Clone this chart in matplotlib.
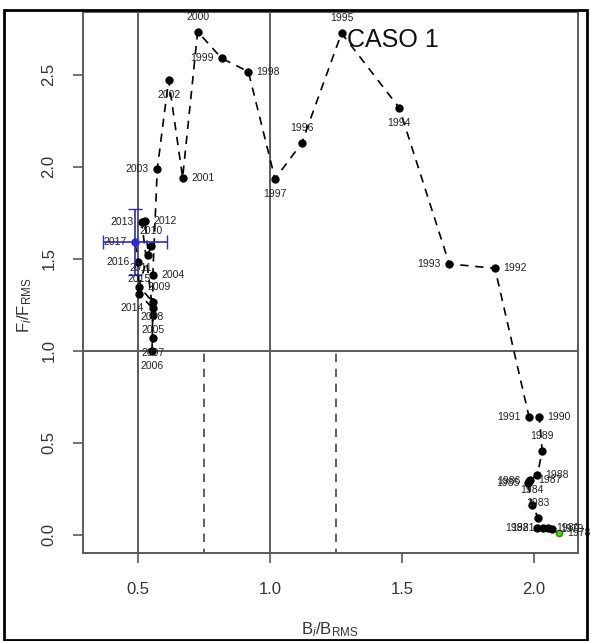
import matplotlib
matplotlib.use("Agg")
import matplotlib.pyplot as plt
from matplotlib.patches import Rectangle
import numpy as np

plt.rcParams['font.family'] = ['Liberation Sans', 'DejaVu Sans']
plt.rcParams['mathtext.fontset'] = 'custom'
plt.rcParams['mathtext.rm'] = 'Liberation Sans'
plt.rcParams['mathtext.it'] = 'Liberation Sans:italic'

# yearly values, B_i/B_RMS and F_i/F_RMS
years = list(range(1978, 2018))
b_ratio = [2.093, 2.067, 2.054, 2.035, 2.012, 2.016, 1.992, 1.977, 1.980, 1.985,
           2.013, 2.031, 2.020, 1.981, 1.852, 1.679, 1.489, 1.271, 1.120, 1.019,
           0.918, 0.817, 0.726, 0.669, 0.616, 0.573, 0.556, 0.556, 0.553, 0.555,
           0.555, 0.504, 0.548, 0.539, 0.527, 0.514, 0.555, 0.505, 0.500, 0.489]
f_ratio = [0.010, 0.031, 0.036, 0.036, 0.038, 0.093, 0.163, 0.283, 0.293, 0.299,
           0.326, 0.458, 0.643, 0.643, 1.449, 1.473, 2.322, 2.727, 2.129, 1.935,
           2.518, 2.590, 2.735, 1.942, 2.473, 1.989, 1.413, 1.196, 1.002, 1.069,
           1.268, 1.350, 1.571, 1.520, 1.708, 1.699, 1.232, 1.310, 1.486, 1.591]
# where each year label sits: r = right, l = left, a = above, b = below
label_side = ['r', 'r', 'r', 'l', 'l', 'a', 'a', 'l', 'l', 'r',
              'r', 'a', 'r', 'l', 'r', 'l', 'b', 'a', 'a', 'b',
              'r', 'l', 'a', 'r', 'b', 'l', 'r', 'b', 'b', 'b',
              'b', 'r', 'a', 'bl', 'r', 'l', 'l', 'a', 'l', 'l']

# uncertainty of the last year
b_err_last = 0.122
f_err_last = 0.18

fig = plt.figure(figsize=(5.9, 6.41), dpi=100)
ax = fig.add_axes([0.1407, 0.1373, 0.839, 0.844])

box_col = '#5a5a5a'
ax.axvline(0.5, color=box_col, lw=1.4, zorder=1)
ax.axvline(1.0, color=box_col, lw=1.4, zorder=1)
ax.axhline(1.0, color=box_col, lw=1.4, zorder=1)
ax.plot([0.75, 0.75], [-0.2, 1.0], color='#444444', lw=1.2, ls=(0, (5, 4)), zorder=1)
ax.plot([1.25, 1.25], [-0.2, 1.0], color='#444444', lw=1.2, ls=(0, (5, 4)), zorder=1)

ax.plot(b_ratio, f_ratio, color='black', lw=1.2, ls=(0, (5, 4)), zorder=2)
ax.plot(b_ratio[1:-1], f_ratio[1:-1], 'o', color='black', ms=5, zorder=3)
ax.plot(b_ratio[0], f_ratio[0], 'o', color='#55cc22', mec='#228800', ms=4.5, zorder=4)
ax.errorbar(b_ratio[-1], f_ratio[-1], xerr=b_err_last, yerr=f_err_last,
            fmt='o', color='#2a2ad6', ms=5, lw=1.2, capsize=5, zorder=4)

offsets = {'r': (20, 0), 'l': (-20, 0), 'a': (0, 15), 'b': (0, -15), 'bl': (-8, -13)}
for yr, bx, fy, side in zip(years, b_ratio, f_ratio, label_side):
    ax.annotate(str(yr), (bx, fy), xytext=offsets[side], textcoords='offset pixels',
                ha='center', va='center', fontsize=7.5, color='#222222', zorder=5)

ax.text(1.29, 2.69, 'CASO 1', fontsize=18, color='#111111', ha='left', va='center')

ax.set_xlim(0.2917, 2.1667)
ax.set_ylim(-0.098, 2.842)
ax.set_xticks([0.5, 1.0, 1.5, 2.0])
ax.set_yticks([0.0, 0.5, 1.0, 1.5, 2.0, 2.5])
ax.set_xticklabels(['0.5', '1.0', '1.5', '2.0'])
ax.set_yticklabels(['0.0', '0.5', '1.0', '1.5', '2.0', '2.5'], rotation=90, va='center')
ax.tick_params(direction='out', length=7, width=1.2, color=box_col,
               labelsize=12, labelcolor='#333333', pad=12)
ax.tick_params(axis='x', pad=14)
for sp in ax.spines.values():
    sp.set_color(box_col)
    sp.set_linewidth(1.4)

fig.text(330 / 590, 1 - 630 / 641, r'B$_i$/B$_{\mathrm{RMS}}$', fontsize=12,
         color='#333333', ha='center', va='center')
fig.text(25 / 590, 1 - 305 / 641, r'F$_i$/F$_{\mathrm{RMS}}$', fontsize=12,
         color='#333333', ha='center', va='center', rotation=90)

fig.add_artist(Rectangle((0.0068, 0.0016), 0.988, 0.9828, transform=fig.transFigure,
                         fill=False, lw=2, ec='black'))

fig.savefig('out.png', dpi=100)
